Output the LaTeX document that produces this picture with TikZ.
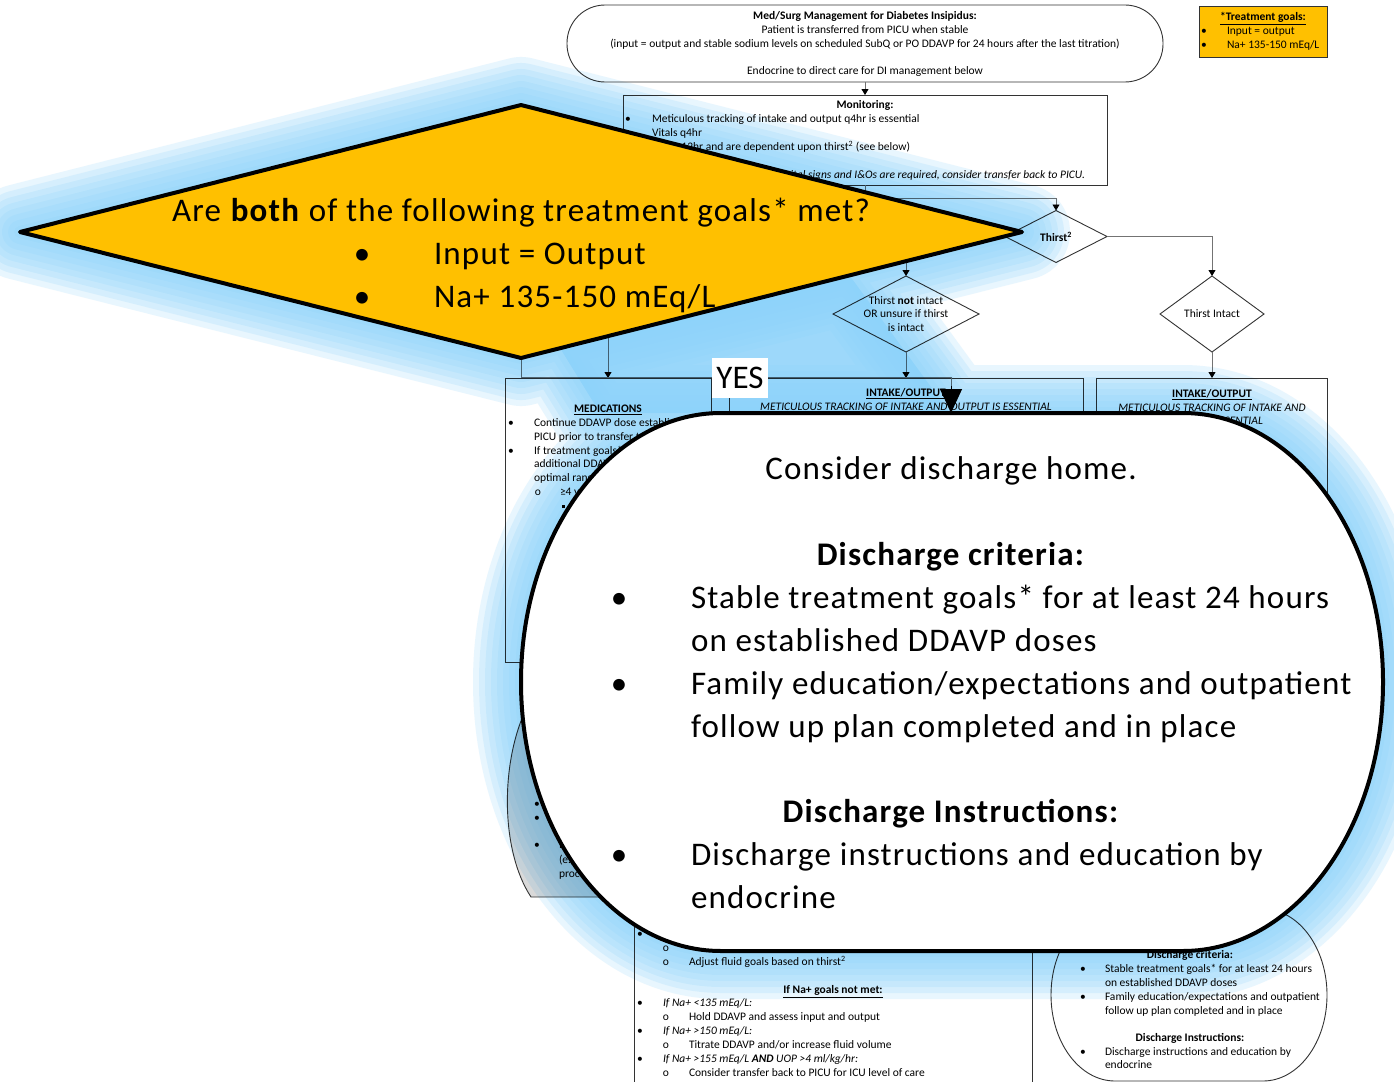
\documentclass[tikz,border=0pt]{standalone}
\usepackage{fontspec}
\setmainfont{Carlito}
\newfontfamily\bigfam[LetterSpace=3.6]{Carlito}
\usetikzlibrary{arrows.meta,shapes.geometric}
\definecolor{goalfill}{HTML}{FFC000}
\definecolor{glowblue}{RGB}{140,210,250}
\definecolor{shadegray}{RGB}{217,217,217}
\begin{document}
\begin{tikzpicture}[x=1pt,y=-1pt,
  every node/.style={inner sep=0pt,outer sep=0pt},
  txt/.style={font=\fontsize{11.5}{13.5}\selectfont, anchor=base},
  txtl/.style={txt, anchor=base west},
  bigtxt/.style={font=\bigfam\fontsize{33}{43}\selectfont, anchor=base},
  bigtxtl/.style={bigtxt, anchor=base west},
  boxline/.style={draw=black!80, line width=0.9pt},
  conn/.style={draw=black!55, line width=0.9pt},
  arr/.style={conn, -{Triangle[width=7pt,length=6pt,color=black]}},
  callout/.style={draw=black, line width=4pt, line join=round},
]
\useasboundingbox (0,0) rectangle (1394,1081);
\fill[white] (0,0) rectangle (1394,1081);

% ---------- key points of the two enlarged shapes ----------
\coordinate (gW) at (20,232);
\coordinate (gN) at (521,105);
\coordinate (gE) at (1022,232);
\coordinate (gS) at (521,358);
\coordinate (cTL) at (721,413);
\coordinate (cTR) at (1183,413);
\coordinate (cBL) at (721,951);
\coordinate (cTop) at (951,413);
\coordinate (yesdrop) at (951,386);

% ---------- header ----------
\node[boxline, rounded corners=38pt, minimum width=596pt, minimum height=77pt] (hdr) at (865,43.5) {};
\node[txt] (hdr1) at (865,19.5) {\textbf{Med/Surg Management for Diabetes Insipidus:}};
\node[txt] (hdr2) at (865,33.5) {Patient is transferred from PICU when stable};
\node[txt] (hdr3) at (865,47.5) {(input = output and stable sodium levels on scheduled SubQ or PO DDAVP for 24 hours after the last titration)};
\node[txt] (hdr4) at (865,74.5) {Endocrine to direct care for DI management below};

% ---------- treatment goals ----------
\node[boxline, fill=goalfill, minimum width=128pt, minimum height=51pt] (goals) at (1263,31.5) {};
\node[txt] (goals0) at (1263,20.5) {\textbf{\underline{*Treatment goals:}}};
\node[txt] (goalsb1) at (1204,34.5) {•};
\node[txtl] (goals1) at (1227,34.5) {Input = output};
\node[txt] (goalsb2) at (1204,48.5) {•};
\node[txtl] (goals2) at (1227,48.5) {Na+ 135-150 mEq/L};

% ---------- monitoring ----------
\node[boxline, minimum width=484pt, minimum height=90pt] (mon) at (865,140) {};
\draw[arr] (hdr.south) -- (mon.north);
\node[txt] (mon0) at (865,108.5) {\textbf{Monitoring:}};
\node[txt] (monb1) at (628,122.5) {•};
\node[txtl] (mon1) at (652,122.5) {Meticulous tracking of intake and output q4hr is essential};
\node[txt] (monb2) at (628,136.5) {•};
\node[txtl] (mon2) at (652,136.5) {Vitals q4hr};
\node[txt] (monb3) at (628,150.5) {•};
\node[txtl] (mon3) at (652,150.5) {Labs q12hr and are dependent upon thirst\textsuperscript{2} (see below)};
\node[txt, anchor=base east] (mon4) at (1085,178.5) {\itshape If more frequent vital signs and I\&Os are required, consider transfer back to PICU.};

% ---------- thirst decisions ----------
\node[diamond, boxline, minimum width=102pt, minimum height=52pt] (thirst) at (1056,236.5) {};
\node[font=\fontsize{11.5}{13}\selectfont] (thirstT) at (1056,237) {\textbf{Thirst\textsuperscript{2}}};
\draw[arr] (mon.south) -- ++(0,13) -| (thirst.north);

\node[diamond, boxline, minimum width=146pt, minimum height=76pt] (nti) at (906,314) {};
\node[font=\fontsize{11.5}{13.5}\selectfont, align=center] (ntiT) at (906,314) {Thirst \textbf{not} intact\\OR unsure if thirst\\is intact};
\draw[arr] (thirst.west) -| (nti.north);

\node[diamond, boxline, minimum width=104pt, minimum height=76pt] (ti) at (1212,314) {};
\node[font=\fontsize{11.5}{13}\selectfont] (tiT) at (1212,314) {Thirst Intact};
\draw[arr] (thirst.east) -| (ti.north);

% ---------- care boxes ----------
\node[boxline, minimum width=206pt, minimum height=284pt] (meds) at (608,520) {};
\node[boxline, minimum width=354pt, minimum height=522pt] (io) at (906,639) {};
\node[boxline, minimum width=231pt, minimum height=472pt] (io2) at (1212,614) {};
\node[boxline, minimum width=398pt, minimum height=200pt] (na) at (833,1005) {};
\coordinate (medsfeed) at (608,320);
\draw[arr] (medsfeed) -- (meds.north);
\draw[arr] (nti.south) -- (io.north);
\draw[arr] (ti.south) -- (io2.north);
\draw[conn] (gS) -- ++(0,19) -| (yesdrop);

\node[txt] (m0) at (608,412.5) {\textbf{\underline{MEDICATIONS}}};
\node[txt] (mb1) at (511,426.5) {•};
\node[txtl] (m1) at (534,426.5) {Continue DDAVP dose established in};
\node[txtl] (m2) at (534,440.5) {PICU prior to transfer to the floor};
\node[txt] (mb2) at (511,454.5) {•};
\node[txtl] (m3) at (534,454.5) {If treatment goals* not met, give};
\node[txtl] (m4) at (534,467.5) {additional DDAVP to keep Na+ in};
\node[txtl] (m5) at (534,481.5) {optimal range:};
\node[txt] (mo1) at (538,495.5) {o};
\node[txtl] (m6) at (560,495.5) {≥4 years:};
\node (msq) at (563,506) {\rule{3pt}{3pt}};

\node[txt] (io0) at (906,396.5) {\textbf{\underline{INTAKE/OUTPUT}}};
\node[txt] (io1) at (906,410.5) {\itshape METICULOUS TRACKING OF INTAKE AND OUTPUT IS ESSENTIAL};
\node[txt] (io20) at (1212,397.5) {\textbf{\underline{INTAKE/OUTPUT}}};
\node[txt] (io21) at (1212,411.5) {\itshape METICULOUS TRACKING OF INTAKE AND};
\node[txt] (io22) at (1212,424.5) {\itshape OUTPUT IS ESSENTIAL};

% grey side panel at the lower left
\filldraw[boxline, fill=shadegray] (600,700) -- (528,705) .. controls (500,760) and (500,850) .. (531,897) -- (640,897) -- (640,700) -- cycle;
\node[txt] (lb1) at (537,807.5) {•};
\node[txt] (lb2) at (537,821.5) {•};
\node[txt] (lb3) at (537,848.5) {•};
\node[txtl] (l3) at (559,848.5) {If};
\node[txtl] (l4) at (559,863.5) {(e.g.,};
\node[txtl] (l5) at (559,877.5) {proce};

% sodium box text
\node[txt] (nb1) at (640,937.5) {•};
\node[txt] (no1) at (666,951.5) {o};
\node[txt] (no2) at (666,965.5) {o};
\node[txtl] (n2) at (689,965.5) {Adjust fluid goals based on thirst\textsuperscript{2}};
\node[txt] (n3) at (833,993.5) {\textbf{\underline{If Na+ goals not met:}}};
\node[txt] (nb4) at (640,1006.5) {•};
\node[txtl] (n4) at (663,1006.5) {\itshape If Na+ <135 mEq/L:};
\node[txt] (no5) at (666,1020.5) {o};
\node[txtl] (n5) at (689,1020.5) {Hold DDAVP and assess input and output};
\node[txt] (nb6) at (640,1034.5) {•};
\node[txtl] (n6) at (663,1034.5) {\itshape If Na+ >150 mEq/L:};
\node[txt] (no7) at (666,1048.5) {o};
\node[txtl] (n7) at (689,1048.5) {Titrate DDAVP and/or increase fluid volume};
\node[txt] (nb8) at (640,1062.5) {•};
\node[txtl] (n8) at (663,1062.5) {\itshape If Na+ >155 mEq/L \textbf{AND} UOP >4 ml/kg/hr:};
\node[txt] (no9) at (666,1076.5) {o};
\node[txtl] (n9) at (689,1076.5) {Consider transfer back to PICU for ICU level of care};

% discharge terminator
\draw[boxline] (1115,909) -- (1263,909) arc[start angle=90,end angle=-90,x radius=64pt,y radius=86pt]
  -- (1115,1081) arc[start angle=270,end angle=90,x radius=64pt,y radius=86pt] -- cycle;
\node[txt] (r0) at (1190,958.5) {\textbf{Discharge criteria:}};
\node[txt] (rb1) at (1083,972.5) {•};
\node[txtl] (r1) at (1105,972.5) {Stable treatment goals* for at least 24 hours};
\node[txtl] (r2) at (1105,986.5) {on established DDAVP doses};
\node[txt] (rb2) at (1083,1000.5) {•};
\node[txtl] (r3) at (1105,1000.5) {Family education/expectations and outpatient};
\node[txtl] (r4) at (1105,1014.5) {follow up plan completed and in place};
\node[txt] (r5) at (1190,1041.5) {\textbf{Discharge Instructions:}};
\node[txt] (rb3) at (1083,1055.5) {•};
\node[txtl] (r6) at (1105,1055.5) {Discharge instructions and education by};
\node[txtl] (r7) at (1105,1068.5) {endocrine};

% ---------- soft blue glow behind the enlarged shapes ----------
\begin{scope}[transparency group, blend mode=multiply]
  \foreach \w in {96,84,72,60,48,36,24,12}{
    \draw[glowblue, opacity=0.2, line width=\w pt, line join=round]
      (gW) -- (gN) -- (gE) -- (gS) -- cycle
      (560,348) -- (850,276) -- (950,413) -- (600,413) -- cycle
      (cTL) -- (cTR) arc[start angle=90,end angle=-90,x radius=200pt,y radius=269pt]
      -- (cBL) arc[start angle=270,end angle=90,x radius=200pt,y radius=269pt] -- cycle;
  }
  \fill[glowblue, opacity=0.85] (560,348) -- (850,276) -- (950,413) -- (600,413) -- cycle;
\end{scope}

% ---------- enlarged decision ----------
\filldraw[fill=goalfill, callout] (gW) -- (gN) -- (gE) -- (gS) -- cycle;
\node[bigtxt] (q0) at (521,221) {Are \textbf{both} of the following treatment goals* met?};
\node[bigtxt] (qb1) at (362,264) {•};
\node[bigtxtl] (q1) at (434,264) {Input = Output};
\node[bigtxt] (qb2) at (362,307) {•};
\node[bigtxtl] (q2) at (434,307) {Na+ 135-150 mEq/L};

% ---------- enlarged discharge terminator ----------
\filldraw[fill=white, callout] (cTL) -- (cTR) arc[start angle=90,end angle=-90,x radius=200pt,y radius=269pt]
  -- (cBL) arc[start angle=270,end angle=90,x radius=200pt,y radius=269pt] -- cycle;
\node[bigtxt] (d0) at (951,479) {Consider discharge home.};
\node[bigtxt] (d1) at (951,565) {\textbf{Discharge criteria:}};
\node[bigtxt] (db1) at (619,608) {•};
\node[bigtxtl] (d2) at (691,608) {Stable treatment goals* for at least 24 hours};
\node[bigtxtl] (d3) at (691,651) {on established DDAVP doses};
\node[bigtxt] (db2) at (619,694) {•};
\node[bigtxtl] (d4) at (691,694) {Family education/expectations and outpatient};
\node[bigtxtl] (d5) at (691,737) {follow up plan completed and in place};
\node[bigtxt] (d6) at (951,822) {\textbf{Discharge Instructions:}};
\node[bigtxt] (db3) at (619,865) {•};
\node[bigtxtl] (d7) at (691,865) {Discharge instructions and education by};
\node[bigtxtl] (d8) at (691,908) {endocrine};

% ---------- YES branch ----------
\node[fill=white, font=\fontsize{33}{33}\selectfont, minimum width=56pt, minimum height=40pt] (yes) at (740,378) {YES};
\draw[line width=1pt, -{Triangle[width=22pt,length=24pt]}] (yesdrop) -- (cTop);
\end{tikzpicture}
\end{document}
